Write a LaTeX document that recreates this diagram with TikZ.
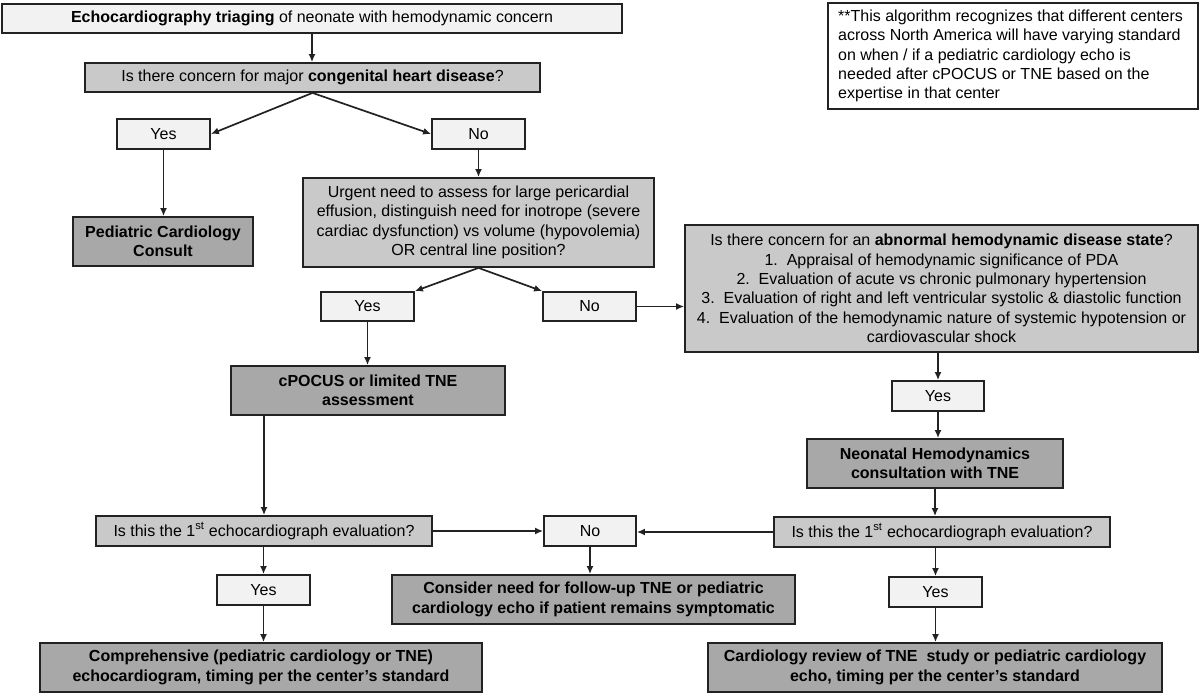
\documentclass[tikz,border=0pt]{standalone}
\usepackage{fontspec}
\setmainfont{Liberation Sans}
\usetikzlibrary{arrows.meta}
\definecolor{boxlight}{HTML}{F2F2F2}
\definecolor{boxmid}{HTML}{C9C9C9}
\definecolor{boxdark}{HTML}{A8A8A8}
\definecolor{edgecol}{HTML}{222222}
\tikzset{
  fbox/.style={draw=edgecol, line width=1.8pt, inner sep=0pt, align=center,
    font=\fontsize{16}{19.3}\selectfont},
  lbox/.style={fbox, fill=boxlight},
  mbox/.style={fbox, fill=boxmid},
  dbox/.style={fbox, fill=boxdark, font=\fontsize{16}{19.5}\selectfont\bfseries},
  arr/.style={draw=edgecol, line width=1.7pt, -{Latex[length=8pt,width=7pt]}},
}
\newcommand{\bx}[7]{% name, style, x1, y1, x2, y2, text
  \node[#2, minimum width={(#5)-(#3)}, minimum height={(#6)-(#4)}] (#1) at ({((#3)+(#5))/2},{((#4)+(#6))/2}) {#7};}
\begin{document}
\begin{tikzpicture}[x=1pt,y=-1pt]
\useasboundingbox[fill=white] (0,0) rectangle (1200,693);
\bx{top}{lbox}{2}{4}{622}{33}{\textbf{Echocardiography triaging} of neonate with hemodynamic concern}
\bx{q1}{mbox}{85}{63}{540}{92}{Is there concern for major \textbf{congenital heart disease}?}
\bx{yes1}{lbox}{117}{119}{210}{149}{Yes}
\bx{no1}{lbox}{432}{119}{525}{149}{No}
\bx{pcc}{dbox}{73}{217}{253}{266}{Pediatric Cardiology\\Consult}
\bx{urg}{mbox}{303}{178}{654}{267}{Urgent need to assess for large pericardial\\effusion, distinguish need for inotrope (severe\\cardiac dysfunction) vs volume (hypovolemia)\\OR central line position?}
\bx{yes2}{lbox}{321}{292}{414}{321}{Yes}
\bx{no2}{lbox}{543}{292}{636}{321}{No}
\bx{note}{fbox}{828}{3}{1198}{109}{}
\node[anchor=north west, align=left, inner sep=0pt, font=\fontsize{16}{19.2}\selectfont] (notetext) at (838,10)
  {**This algorithm recognizes that different centers\\across North America will have varying standard\\on when / if a pediatric cardiology echo is\\needed after cPOCUS or TNE based on the\\expertise in that center};
\bx{abn}{mbox}{685}{225}{1198}{352}{Is there concern for an \textbf{abnormal hemodynamic disease state}?\\1.~~Appraisal of hemodynamic significance of PDA\\2.~~Evaluation of acute vs chronic pulmonary hypertension\\3.~~Evaluation of right and left ventricular systolic \& diastolic function\\4.~~Evaluation of the hemodynamic nature of systemic hypotension or\\cardiovascular shock}
\bx{cpo}{dbox}{231}{366}{505}{415}{cPOCUS or limited TNE\\assessment}
\bx{yes3}{lbox}{892}{381}{984}{411}{Yes}
\bx{nh}{dbox}{807}{439}{1063}{488}{Neonatal Hemodynamics\\consultation with TNE}
\bx{lq}{mbox}{96}{516}{432}{546}{Is this the 1\textsuperscript{st} echocardiograph evaluation?}
\bx{no3}{lbox}{544}{516}{636}{546}{No}
\bx{rq}{mbox}{774}{517}{1110}{547}{Is this the 1\textsuperscript{st} echocardiograph evaluation?}
\bx{yes4}{lbox}{217}{575}{310}{605}{Yes}
\bx{con}{dbox}{392}{575}{795}{624}{Consider need for follow-up TNE or pediatric\\cardiology echo if patient remains symptomatic}
\bx{yes5}{lbox}{889}{577}{982}{607}{Yes}
\bx{comp}{dbox}{40}{643}{482}{692}{Comprehensive (pediatric cardiology or TNE)\\echocardiogram, timing per the center’s standard}
\bx{cr}{dbox}{708}{643}{1162}{692}{Cardiology review of TNE~ study or pediatric cardiology\\echo, timing per the center’s standard}

\draw[arr] (top.south) -- (top.south |- q1.north);
\draw[arr] (q1.south) -- (yes1.east);
\draw[arr] (q1.south) -- (no1.west);
\draw[arr] (yes1.south) -- (yes1.south |- pcc.north);
\draw[arr] (no1.south) -- (no1.south |- urg.north);
\draw[arr] (urg.south) -- (yes2.north east);
\draw[arr] (urg.south) -- (no2.north west);
\draw[arr] (no2.east) -- (no2.east -| abn.west);
\draw[arr] (yes2.south) -- (yes2.south |- cpo.north);
\draw[arr] (cpo.south -| lq.north) -- (lq.north);
\draw[arr] (yes3.north |- abn.south) -- (yes3.north);
\draw[arr] (yes3.south) -- (yes3.south |- nh.north);
\draw[arr] (nh.south) -- (nh.south |- rq.north);
\draw[arr] (lq.east) -- (lq.east -| no3.west);
\draw[arr] (rq.west) -- (rq.west -| no3.east);
\draw[arr] (no3.south) -- (no3.south |- con.north);
\draw[arr] (lq.south -| yes4.north) -- (yes4.north);
\draw[arr] (yes4.south) -- (yes4.south |- comp.north);
\draw[arr] (yes5.north |- rq.south) -- (yes5.north);
\draw[arr] (yes5.south) -- (yes5.south |- cr.north);
\end{tikzpicture}
\end{document}
